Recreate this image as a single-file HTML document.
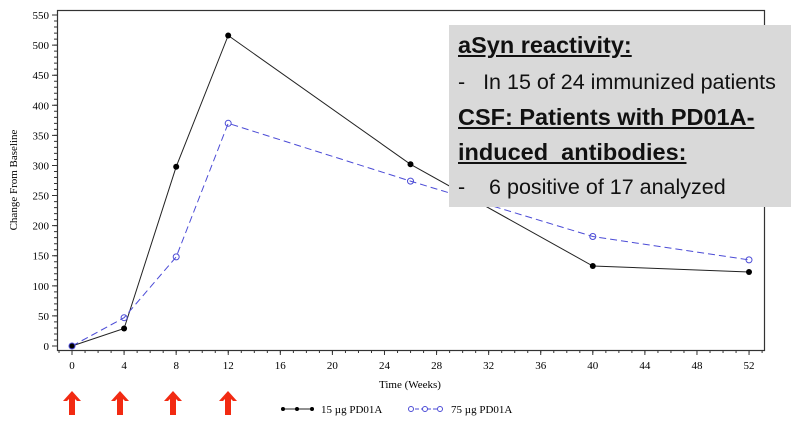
<!DOCTYPE html><html><head><style>body{margin:0;background:#fff;width:800px;height:423px;overflow:hidden;position:relative}
.box{position:absolute;left:449px;top:25px;width:342px;height:182px;background:#d9d9d9;font-family:"Liberation Sans",sans-serif;color:#111}
.box div{position:absolute;left:9px;white-space:nowrap;line-height:1}
.h{font-weight:bold;font-size:23.5px;text-decoration:underline}
.t{font-size:21.5px}
</style></head><body>
<svg width="800" height="423" style="position:absolute;left:0;top:0" font-family="Liberation Serif" font-size="11">
<rect x="57.5" y="10.5" width="707" height="340" fill="none" stroke="#333" stroke-width="1.2"/>
<line x1="58.5" x2="764" y1="351.5" y2="351.5" stroke="#333" stroke-width="3" stroke-dasharray="1,12.02" stroke-dashoffset="-0.02"/>
<line x1="71.5" x2="764" y1="352.5" y2="352.5" stroke="#333" stroke-width="5" stroke-dasharray="1,51.08"/>
<line x1="55.5" x2="55.5" y1="346.5" y2="14" stroke="#333" stroke-width="3" stroke-dasharray="1,5.018"/>
<line x1="54.5" x2="54.5" y1="346.5" y2="14" stroke="#333" stroke-width="5" stroke-dasharray="1,29.09"/>
<g text-anchor="middle">
<text x="72" y="369">0</text><text x="124.1" y="369">4</text><text x="176.2" y="369">8</text><text x="228.2" y="369">12</text><text x="280.3" y="369">16</text><text x="332.4" y="369">20</text><text x="384.5" y="369">24</text><text x="436.6" y="369">28</text><text x="488.6" y="369">32</text><text x="540.7" y="369">36</text><text x="592.8" y="369">40</text><text x="644.9" y="369">44</text><text x="697" y="369">48</text><text x="749" y="369">52</text>
</g>
<g text-anchor="end">
<text x="49" y="350">0</text><text x="49" y="319.9">50</text><text x="49" y="289.8">100</text><text x="49" y="259.7">150</text><text x="49" y="229.6">200</text><text x="49" y="199.6">250</text><text x="49" y="169.5">300</text><text x="49" y="139.4">350</text><text x="49" y="109.3">400</text><text x="49" y="79.2">450</text><text x="49" y="49.1">500</text><text x="49" y="19">550</text>
</g>
<polyline fill="none" stroke="#222" points="72,346 124.1,328.5 176.2,166.7 228.2,35.5 410.5,164.3 592.8,266 749,272"/>
<polyline fill="none" stroke="#4b4bd6" stroke-dasharray="7,4" points="72,346 124.1,317.7 176.2,256.9 228.2,123.3 410.5,181.1 592.8,236.5 749,259.9"/>
<g fill="#000">
<circle cx="72" cy="346" r="3"/><circle cx="124.1" cy="328.5" r="3"/><circle cx="176.2" cy="166.7" r="3"/><circle cx="228.2" cy="35.5" r="3"/><circle cx="410.5" cy="164.3" r="3"/><circle cx="592.8" cy="266" r="3"/><circle cx="749" cy="272" r="3"/>
</g>
<g fill="none" stroke="#4b4bd6">
<circle cx="72" cy="346" r="3"/><circle cx="124.1" cy="317.7" r="3"/><circle cx="176.2" cy="256.9" r="3"/><circle cx="228.2" cy="123.3" r="3"/><circle cx="410.5" cy="181.1" r="3"/><circle cx="592.8" cy="236.5" r="3"/><circle cx="749" cy="259.9" r="3"/>
</g>
<text x="410" y="388" text-anchor="middle">Time (Weeks)</text>
<text transform="translate(17,180) rotate(-90)" text-anchor="middle" font-size="11">Change From Baseline</text>
<line x1="281" x2="314" y1="409" y2="409" stroke="#222"/><circle cx="283" cy="409" r="2" fill="#000"/><circle cx="297" cy="409" r="2" fill="#000"/><circle cx="312" cy="409" r="2" fill="#000"/>
<text x="321" y="413">15 µg PD01A</text>
<line x1="409" x2="442" y1="409" y2="409" stroke="#4b4bd6" stroke-dasharray="4,2"/><circle cx="411" cy="409" r="2.5" fill="#fff" stroke="#4b4bd6"/><circle cx="425" cy="409" r="2.5" fill="#fff" stroke="#4b4bd6"/><circle cx="440" cy="409" r="2.5" fill="#fff" stroke="#4b4bd6"/>
<text x="451" y="413">75 µg PD01A</text>
<g fill="#f22a12">
<polygon transform="translate(72,391)" points="0,0 -9,10 -5,10 -3,8 -3,24 3,24 3,8 5,10 9,10"/>
<polygon transform="translate(120,391)" points="0,0 -9,10 -5,10 -3,8 -3,24 3,24 3,8 5,10 9,10"/>
<polygon transform="translate(173,391)" points="0,0 -9,10 -5,10 -3,8 -3,24 3,24 3,8 5,10 9,10"/>
<polygon transform="translate(228,391)" points="0,0 -9,10 -5,10 -3,8 -3,24 3,24 3,8 5,10 9,10"/>
</g>
</svg>
<div class="box">
<div class="h" style="top:9px">aSyn reactivity:</div>
<div class="t" style="top:47px">-&nbsp;&nbsp; In 15 of 24 immunized patients</div>
<div class="h" style="top:81px">CSF: Patients with PD01A-</div>
<div class="h" style="top:116px">induced&nbsp; antibodies:</div>
<div class="t" style="top:152px">-&nbsp;&nbsp;&nbsp; 6 positive of 17 analyzed</div>
</div>
</body></html>
